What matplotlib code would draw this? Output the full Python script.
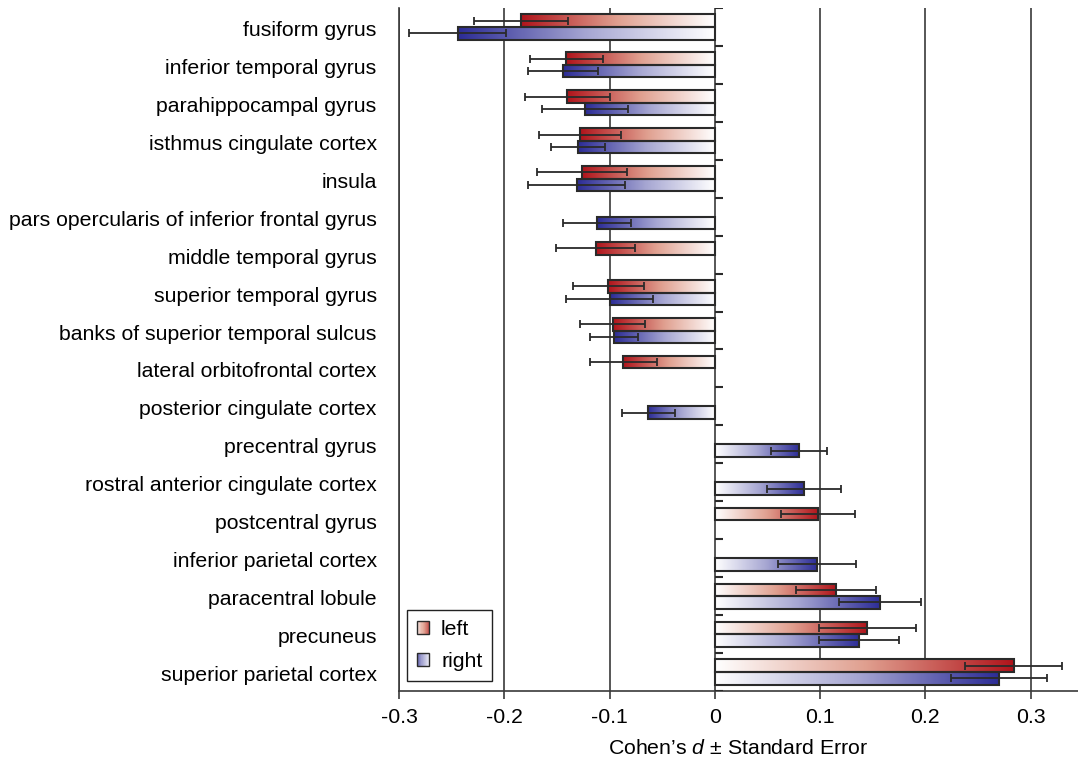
#!/usr/bin/env python3
import numpy as np
import matplotlib
matplotlib.use("Agg")
import matplotlib.pyplot as plt
from matplotlib.colors import LinearSegmentedColormap
from matplotlib.patches import Rectangle
from matplotlib.legend_handler import HandlerBase

# ============================================================
# DATA (Cohen's d and standard error, per hemisphere)
# ============================================================
regions = [
    "fusiform gyrus",
    "inferior temporal gyrus",
    "parahippocampal gyrus",
    "isthmus cingulate cortex",
    "insula",
    "pars opercularis of inferior frontal gyrus",
    "middle temporal gyrus",
    "superior temporal gyrus",
    "banks of superior temporal sulcus",
    "lateral orbitofrontal cortex",
    "posterior cingulate cortex",
    "precentral gyrus",
    "rostral anterior cingulate cortex",
    "postcentral gyrus",
    "inferior parietal cortex",
    "paracentral lobule",
    "precuneus",
    "superior parietal cortex",
]
nan = np.nan
left_d = [-0.184, -0.141, -0.140, -0.128, -0.126, nan, -0.113, -0.101, -0.097,
          -0.087, nan, nan, nan, 0.098, nan, 0.115, 0.145, 0.284]
left_se = [0.045, 0.035, 0.040, 0.039, 0.043, nan, 0.0375, 0.034, 0.031,
           0.032, nan, nan, nan, 0.0355, nan, 0.038, 0.046, 0.046]
right_d = [-0.244, -0.144, -0.123, -0.130, -0.131, -0.112, nan, -0.100, -0.096,
           nan, -0.063, 0.080, 0.085, nan, 0.097, 0.157, 0.137, 0.270]
right_se = [0.046, 0.0335, 0.041, 0.026, 0.046, 0.032, nan, 0.0415, 0.023,
            nan, 0.025, 0.0266, 0.035, nan, 0.037, 0.0386, 0.038, 0.0455]

x_ticks = [-0.3, -0.2, -0.1, 0, 0.1, 0.2, 0.3]
x_tick_labels = ["-0.3", "-0.2", "-0.1", "0", "0.1", "0.2", "0.3"]

# ============================================================
# STYLE
# ============================================================
RED = "#b0141b"
BLUE = "#2c2c96"
EDGE = "#2a2a2a"
GRID = "#3a3a3a"
FS = 15.3
BAR_H = 0.33

plt.rcParams["font.family"] = ["Liberation Sans", "DejaVu Sans"]
plt.rcParams["mathtext.fontset"] = "custom"
plt.rcParams["mathtext.it"] = "Liberation Sans:italic"
plt.rcParams["mathtext.rm"] = "Liberation Sans"

cmap_left = LinearSegmentedColormap.from_list("lft", ["#ffffff", "#e0a090", RED])
cmap_right = LinearSegmentedColormap.from_list("rgt", ["#ffffff", "#a6a6d2", BLUE])


class GradientHandler(HandlerBase):
    # legend swatch drawn as a row of thin coloured slices
    def __init__(self, cmap, reverse=False, n=24):
        super().__init__()
        self.cmap = cmap
        self.reverse = reverse
        self.n = n

    def create_artists(self, legend, orig_handle, xdescent, ydescent,
                       width, height, fontsize, trans):
        arts = []
        w = width / self.n
        for k in range(self.n):
            t = (k + 0.5) / self.n
            if self.reverse:
                t = 1 - t
            arts.append(Rectangle((-xdescent + k * w, -ydescent), w * 1.02, height,
                                  facecolor=self.cmap(0.1 + 0.7 * t),
                                  edgecolor="none", transform=trans))
        arts.append(Rectangle((-xdescent, -ydescent), width, height,
                              facecolor="none", edgecolor=EDGE, lw=1.0,
                              transform=trans))
        return arts


def gradient_bar(ax, yc, val, se, cmap):
    if not np.isfinite(val):
        return
    x0, x1 = min(0, val), max(0, val)
    grad = np.linspace(0, 1, 256)
    if val < 0:
        grad = grad[::-1]
    ax.imshow(grad[np.newaxis, :], cmap=cmap, aspect="auto",
              extent=(x0, x1, yc + BAR_H / 2, yc - BAR_H / 2),
              interpolation="bilinear", zorder=2)
    ax.barh(yc, val, height=BAR_H, left=0, facecolor="none",
            edgecolor=EDGE, linewidth=1.5, zorder=3)
    ax.errorbar(val, yc, xerr=se, fmt="none", ecolor=EDGE, elinewidth=1.3,
                capsize=2.6, capthick=1.3, zorder=4)


fig = plt.figure(figsize=(10.78, 7.63), dpi=100)
ax = fig.add_axes([0.3701, 0.0944, 0.6299, 0.8951])

n = len(regions)
centers = np.arange(n) + 0.5
for i in range(n):
    gradient_bar(ax, centers[i] - BAR_H / 2, left_d[i], left_se[i], cmap_left)
    gradient_bar(ax, centers[i] + BAR_H / 2, right_d[i], right_se[i], cmap_right)

# small ticks on the zero line at category boundaries
ax.hlines(np.arange(n + 1), 0, 0.0075, color=EDGE, lw=1.5, zorder=3)

ax.set_xlim(-0.3, 0.345)
ax.set_ylim(n, 0)

ax.set_xticks(x_ticks)
ax.set_xticklabels(x_tick_labels, fontsize=FS)
ax.set_yticks(centers + 0.04)
ax.set_yticklabels(regions, fontsize=FS)
ax.tick_params(axis="y", length=0, pad=16)
ax.tick_params(axis="x", length=6, width=1.2, color=GRID, pad=6)

ax.grid(axis="x", color=GRID, lw=1.2, zorder=1)
ax.set_axisbelow(True)
for s in ["top", "right"]:
    ax.spines[s].set_visible(False)
for s in ["left", "bottom"]:
    ax.spines[s].set_color(GRID)
    ax.spines[s].set_linewidth(1.2)

ax.set_xlabel("Cohen\u2019s $d$ \u00b1 Standard Error", fontsize=FS, labelpad=9)

h_left = Rectangle((0, 0), 1, 1)
h_right = Rectangle((0, 0), 1, 1)
leg = ax.legend([h_left, h_right], ["left", "right"], loc="lower left",
                bbox_to_anchor=(0.012, 0.015), borderaxespad=0, fontsize=FS,
                fancybox=False, edgecolor="#222222", framealpha=1,
                handlelength=0.6, handleheight=0.6, labelspacing=0.62,
                handletextpad=0.55, borderpad=0.45,
                handler_map={h_left: GradientHandler(cmap_left),
                             h_right: GradientHandler(cmap_right, reverse=True)})
leg.get_frame().set_linewidth(1.0)
leg.set_zorder(5)

fig.savefig("out.png", dpi=100)
